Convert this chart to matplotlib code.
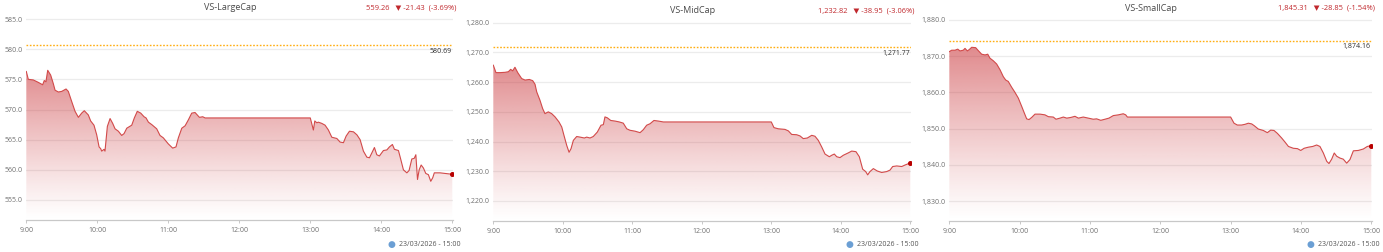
import numpy as np
import matplotlib
matplotlib.use('Agg')
import matplotlib.pyplot as plt
from matplotlib.patches import Polygon

plt.rcParams['font.family'] = ['Open Sans', 'DejaVu Sans']

W, H = 1383, 252

####### Data (minutes after 9:00, index value)
hour_labels = ['9:00', '10:00', '11:00', '12:00', '13:00', '14:00', '15:00']

large_t = [0, 1.7, 5.9, 10.1, 13.8, 15.2, 16.6, 18.1, 20.6, 22.8, 24.3, 27.1, 29.9, 33.6, 35.5,
           38.4, 41.2, 44, 46.8, 49, 52.4, 54.4, 57.2, 59.5, 61.5, 62.9, 63.7, 65.7, 66.5, 68.5,
           70.8, 73, 75, 77.8, 80.6, 82.6, 84.9, 89.1, 91.3, 93.8, 96.7, 99.5, 101.2, 103.2, 106,
           110.2, 113, 115.8, 120, 123.7, 126.5, 128.5, 131.4, 134.2, 137, 139.8, 142.6, 146.3,
           149.1, 151.1, 240, 242.6, 243.8, 245.5, 246.8, 249.7, 252.5, 255.3, 258.2, 262.4,
           265.2, 268, 270.3, 273.1, 276.5, 279.4, 282.1, 284.9, 287.8, 290, 292, 294.2, 296.2,
           298.4, 301.8, 304.7, 306.9, 309.4, 311.1, 314.5, 316.5, 318.7, 321.6, 323.5, 325.8,
           327.8, 329.2, 330.6, 332, 333.7, 335.6, 337.6, 339.8, 341.8, 343.5, 344.8, 349.7, 360]
large_v = [576.3, 575.0, 574.9, 574.5, 574.1, 574.8, 574.6, 576.5, 575.7, 574.3, 573.2, 572.9,
           573.0, 573.4, 573.0, 571.3, 569.7, 568.7, 569.4, 569.8, 569.1, 568.1, 567.4, 565.8,
           563.8, 563.5, 563.1, 563.4, 563.1, 567.2, 568.5, 567.7, 566.8, 566.4, 565.7, 566.0,
           566.9, 567.4, 568.6, 569.7, 569.4, 568.8, 568.6, 567.9, 567.5, 566.8, 565.7, 565.3,
           564.3, 563.6, 563.8, 565.3, 566.9, 567.3, 568.3, 569.4, 569.5, 568.7, 568.8, 568.6,
           568.6, 566.6, 568.1, 567.8, 567.9, 567.7, 567.4, 566.6, 565.4, 565.2, 564.6, 564.5,
           565.6, 566.4, 566.3, 565.8, 565.0, 563.1, 562.1, 562.0, 562.8, 563.7, 562.5, 562.3,
           563.2, 563.3, 563.8, 564.2, 563.4, 563.2, 561.7, 560.0, 559.5, 559.9, 561.8, 561.9,
           562.5, 558.4, 560.0, 560.8, 560.3, 559.4, 559.2, 558.1, 558.7, 559.5, 559.5, 559.26]

mid_t = [0, 2.3, 5.8, 10.1, 13, 15, 16.7, 18.7, 21.1, 24.5, 27.4, 31.1, 34, 36, 37.5, 40.3, 42.6,
         44.6, 47.5, 50.4, 53.3, 56.7, 59.1, 61, 63.4, 65.4, 67.1, 69.1, 72, 74.9, 78.6, 80.6,
         83.5, 86.3, 89.8, 93, 95, 96.4, 98.4, 101.4, 105.1, 108.8, 112.2, 115.2, 118, 122.3,
         126.7, 129.5, 132.4, 135.3, 138.7, 142.5, 146.8, 240, 242.3, 246, 251.8, 254.7, 257.6,
         261.9, 264.8, 267.6, 271.1, 274.9, 277.7, 280.6, 283.5, 286.4, 290.1, 292.2, 294.4,
         296.5, 299.3, 302.2, 306.5, 309.4, 313.1, 316, 318.9, 321.5, 323.2, 325.2, 328.1,
         331.5, 335.3, 339.6, 342.5, 344.8, 348.3, 352.6, 355.4, 360]
mid_v = [1265.7, 1263.2, 1263.2, 1263.3, 1263.5, 1264.3, 1263.8, 1265.0, 1263.2, 1261.2, 1260.7,
         1260.9, 1260.5, 1259.3, 1256.7, 1253.9, 1251.1, 1249.4, 1250.0, 1249.4, 1248.3, 1246.6,
         1244.9, 1242.1, 1238.7, 1236.4, 1237.6, 1240.4, 1241.7, 1241.5, 1241.2, 1241.5, 1241.2,
         1241.7, 1243.2, 1245.5, 1245.7, 1248.3, 1248.0, 1247.1, 1246.9, 1246.6, 1246.2, 1244.3,
         1243.8, 1243.5, 1243.0, 1244.0, 1245.5, 1246.0, 1247.1, 1246.9, 1246.6, 1246.6, 1244.7,
         1244.3, 1244.1, 1243.6, 1242.4, 1242.3, 1241.9, 1241.0, 1241.2, 1242.1, 1241.8, 1240.4,
         1238.2, 1235.8, 1234.9, 1235.4, 1235.8, 1234.9, 1234.6, 1235.4, 1236.2, 1236.8, 1236.6,
         1234.9, 1230.7, 1229.9, 1228.8, 1229.9, 1230.9, 1230.1, 1229.6, 1229.9, 1230.4, 1231.6,
         1231.8, 1231.6, 1232.1, 1232.82]

small_t = [0, 2, 4.9, 7.2, 9.1, 11.9, 13.4, 15.4, 17.1, 19.1, 22.5, 24.7, 27.6, 30.5, 32.8, 34.7,
           37.5, 40.4, 43.3, 46.1, 48.1, 50.3, 53.2, 56, 58.9, 61.8, 64, 66, 68, 70.3, 73.1, 77.4,
           81.6, 84.5, 88.7, 91, 94.4, 97.3, 100.2, 103.8, 107.2, 110.1, 114.3, 118.6, 122.8,
           125.7, 129.2, 132.8, 136.2, 139.9, 144.2, 148.4, 150.5, 151.9, 240, 242.9, 245.7,
           249.4, 252.3, 255.1, 258, 260.2, 263.6, 267.9, 271.3, 274.2, 277, 279.9, 283.6, 286.4,
           289.3, 293.5, 297, 299.8, 302.7, 306.3, 310, 313.4, 316.2, 319.1, 322, 323.9, 326.2,
           328.4, 330.5, 333.3, 336.1, 339, 341.8, 344.7, 348.9, 353.2, 356.6, 360]
small_v = [1871.2, 1871.6, 1871.6, 1871.9, 1871.4, 1871.6, 1872.1, 1871.4, 1871.8, 1872.4, 1872.3,
           1871.5, 1870.5, 1870.3, 1870.5, 1869.4, 1868.7, 1867.8, 1866.2, 1864.3, 1863.4, 1863.0,
           1861.4, 1860.0, 1858.4, 1856.1, 1854.3, 1852.7, 1852.5, 1853.1, 1854.0, 1854.0, 1853.8,
           1853.3, 1853.2, 1852.6, 1852.9, 1853.2, 1852.9, 1853.1, 1853.4, 1852.9, 1853.2, 1852.9,
           1852.6, 1852.7, 1852.3, 1852.6, 1852.9, 1853.6, 1853.8, 1854.1, 1853.8, 1853.2, 1853.2,
           1851.5, 1851.0, 1851.0, 1851.2, 1851.5, 1851.3, 1850.8, 1849.9, 1849.5, 1848.9, 1849.6,
           1849.5, 1848.7, 1847.4, 1846.3, 1845.1, 1844.6, 1844.5, 1844.0, 1844.6, 1844.9, 1845.1,
           1845.5, 1845.1, 1843.3, 1841.0, 1840.4, 1841.6, 1843.3, 1842.4, 1841.9, 1841.6, 1840.5,
           1841.5, 1843.9, 1844.0, 1844.4, 1845.1, 1845.31]

large_ticks = [555, 560, 565, 570, 575, 580, 585]
mid_ticks = [1220, 1230, 1240, 1250, 1260, 1270, 1280]
small_ticks = [1830, 1840, 1850, 1860, 1870, 1880]

####### Drawing
LINE = '#d24a4a'
FILL = np.array([200, 45, 50]) / 255.0


def fig_xy(x, y):
    return x / W, 1 - y / H


def drawPanel(fig, name, t, v, ref, ref_label, change, ticks, fmt,
              x0, px_per_min, tick_px0, tick_v0, tick_px1, tick_v1, y_bottom, title_y):
    '''
    Draws one intraday panel. The pixel numbers only place the axes
    on the figure, the marks come from the data through the axes.
    '''
    y_top = y_bottom - 206
    px_per_unit = (tick_px1 - tick_px0) / (tick_v0 - tick_v1)
    v_bot = tick_v1 - (y_bottom - tick_px1) / px_per_unit
    v_top = tick_v0 + (tick_px0 - y_top) / px_per_unit
    t_max = 360.8
    width = t_max * px_per_min

    ax = fig.add_axes([x0 / W, 1 - y_bottom / H, width / W, (y_bottom - y_top) / H])

    for s in ['top', 'right', 'left']:
        ax.spines[s].set_visible(False)
    ax.spines['bottom'].set_color('#c8c8c8')
    ax.spines['bottom'].set_linewidth(0.9)

    ax.set_yticks(ticks)
    ax.set_yticklabels([fmt.format(k) for k in ticks])
    ax.set_xticks([0, 60, 120, 180, 240, 300, 360])
    ax.set_xticklabels(hour_labels)
    ax.tick_params(axis='y', length=0, pad=2.6, labelsize=5, labelcolor='#707070')
    ax.tick_params(axis='x', length=2.5, width=0.7, color='#c8c8c8', pad=2.2,
                   labelsize=5, labelcolor='#707070')
    ax.grid(True, axis='y', color='#ececec', linewidth=0.9)
    ax.set_axisbelow(True)

    # gradient area under the line
    grad = np.zeros((256, 1, 4))
    grad[:, 0, 0:3] = FILL
    grad[:, 0, 3] = np.linspace(0.0, 0.6, 256) ** 1.15
    vmax = max(v)
    img = ax.imshow(grad, extent=[0, t_max, v_bot, vmax], origin='lower',
                    aspect='auto', zorder=1, interpolation='bilinear')
    verts = [(t[0], v_bot)] + list(zip(t, v)) + [(t[-1], v_bot)]
    clip = Polygon(verts, closed=True, facecolor='none', edgecolor='none')
    ax.add_patch(clip)
    img.set_clip_path(clip)
    ax.set_xlim(0, t_max)
    ax.set_ylim(v_bot, v_top)

    ax.plot(t, v, color=LINE, linewidth=0.8, zorder=3)
    ax.plot([t[-1]], [v[-1]], 'o', color='#b80000', markersize=2.6, zorder=4)

    # reference (previous close)
    ax.axhline(ref, color='#ffae12', linewidth=1.0, linestyle=(0, (1.2, 1.2)), zorder=2)
    ax.text(t_max - 1.2, ref - 6 / px_per_unit, ref_label, ha='right', va='center',
            fontsize=5, color='#2e2e2e')

    # header texts
    cx = x0 + width * 0.477
    fig.text(*fig_xy(cx, title_y), name, ha='center', va='center', fontsize=6.5, color='#4a4a4a')
    fig.text(*fig_xy(x0 + width + 3, title_y), change, ha='right', va='center',
             fontsize=5.4, color='#c0282d')

    # footer
    fig.text(*fig_xy(x0 + width + 7, 245), '23/03/2026 - 15:00', ha='right', va='center',
             fontsize=5, color='#555555')
    fig.text(*fig_xy(x0 + width - 61.5, 245), '●', ha='center', va='center',
             fontsize=6.5, color='#6b9fd4')
    return ax


fig = plt.figure(figsize=(W / 100, H / 100), dpi=100)
fig.patch.set_facecolor('white')

drawPanel(fig, 'VS-LargeCap', large_t, large_v, 580.69, '580.69',
          '559.26   \u25bc -21.43  (-3.69%)', large_ticks, '{:,.1f}',
          26.3, 1.1833, 19.0, 585, 200.0, 555, 220.3, 8)
drawPanel(fig, 'VS-MidCap', mid_t, mid_v, 1271.77, '1,271.77',
          '1,232.82   \u25bc -38.95  (-3.06%)', mid_ticks, '{:,.1f}',
          493.3, 1.1583, 22.7, 1280, 201.0, 1220, 221.3, 10.7)
drawPanel(fig, 'VS-SmallCap', small_t, small_v, 1874.16, '1,874.16',
          '1,845.31   \u25bc -28.85  (-1.54%)', small_ticks, '{:,.1f}',
          949.3, 1.1722, 19.7, 1880, 201.3, 1830, 221.3, 8.3)

plt.savefig('out.png', dpi=100)
